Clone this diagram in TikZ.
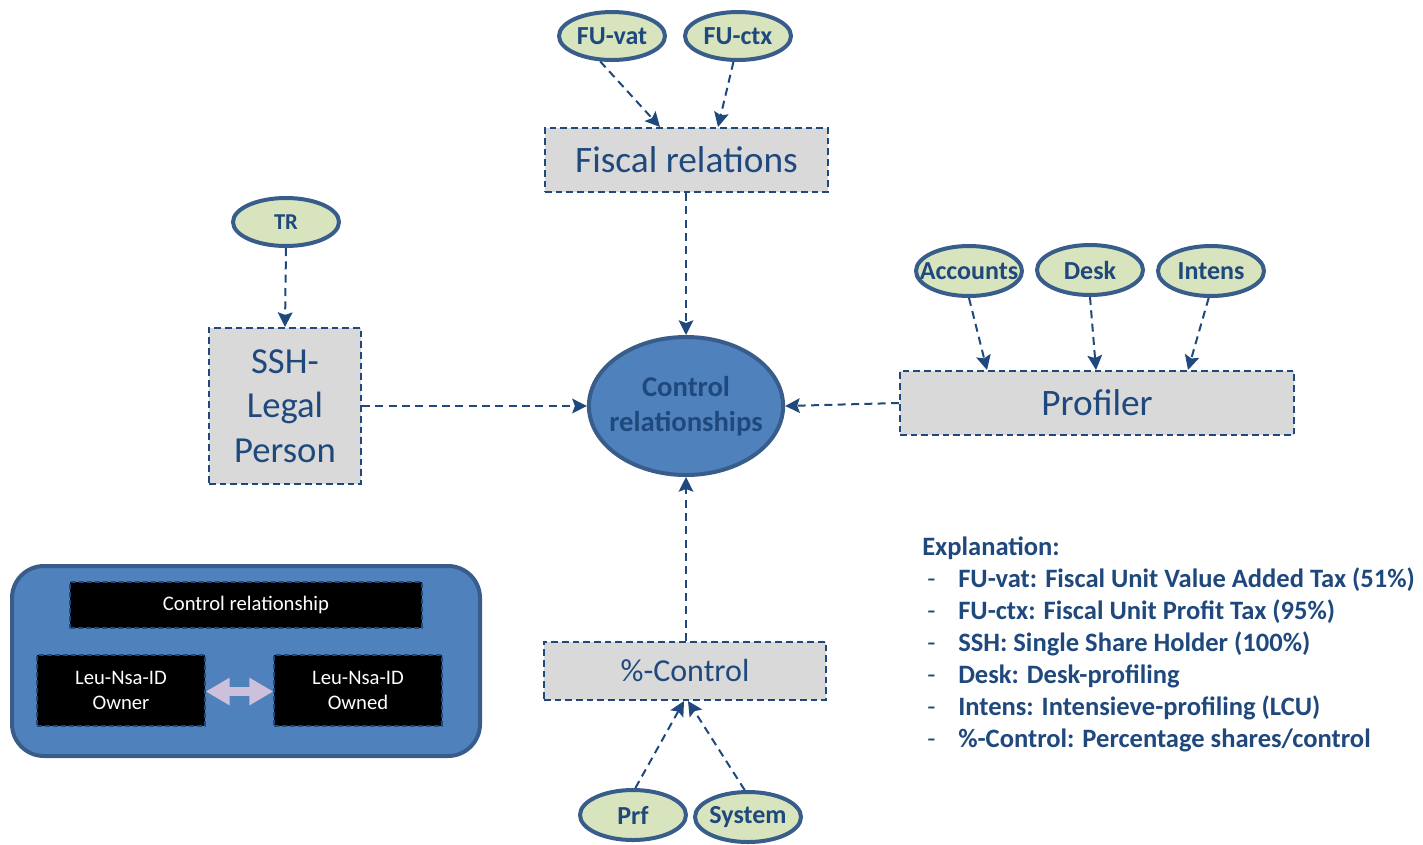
\documentclass[tikz,border=0pt]{standalone}
\usepackage{fontspec}
\setmainfont{Carlito}
\usetikzlibrary{shapes.geometric,arrows.meta,fit}
\definecolor{navy}{HTML}{1F497D}
\definecolor{rim}{HTML}{385D8A}
\definecolor{leaf}{HTML}{D7E4BD}
\definecolor{greybox}{HTML}{D9D9D9}
\definecolor{midblue}{HTML}{4F81BD}
\definecolor{lav}{HTML}{CCC0DA}
\tikzset{
  oval/.style={ellipse, draw=rim, line width=3pt, fill=leaf, inner sep=0pt,
    minimum width=79.5pt, minimum height=36pt, text=navy,
    font=\bfseries\fontsize{19.5}{22}\selectfont},
  dbox/.style={draw=navy, fill=greybox, line width=1.5pt, dash pattern=on 5pt off 3pt,
    inner sep=0pt, text=navy, font=\fontsize{27}{33}\selectfont, align=center},
  blk/.style={draw=navy, fill=black, line width=1pt, dash pattern=on 4pt off 2pt,
    inner sep=0pt, text=white, font=\fontsize{15.5}{19}\selectfont, align=center},
  wlabel/.style={text=white, font=\fontsize{15.5}{19}\selectfont, align=center},
  blabel/.style={text=navy, font=\fontsize{28}{33.5}\selectfont, align=center},
  link/.style={draw=navy, line width=1.5pt, dash pattern=on 6pt off 4pt,
    -{Stealth[length=11pt,width=11pt,inset=2pt]}},
  expl/.style={anchor=base west, text=navy, inner sep=0pt, font=\bfseries\fontsize{19.9}{23}\selectfont},
}
\begin{document}
\begin{tikzpicture}[x=0.75pt,y=-0.75pt]
\useasboundingbox (0,0) rectangle (1423,844);
% ovals
\node[oval] (fuvat) at (612,36) {FU-vat};
\node[oval] (fuctx) at (738,36) {FU-ctx};
\node[oval, font=\bfseries\fontsize{17}{20}\selectfont] (tr) at (286,222) {TR};
\node[oval, inner xsep=-10.4pt, minimum height=37.5pt] (acc) at (969,271) {Accounts};
\node[oval, minimum height=37.5pt] (desk) at (1090,270) {Desk};
\node[oval, minimum height=37.5pt] (intens) at (1211,271) {Intens};
\node[oval, minimum height=37.5pt] (prf) at (633,815) {Prf};
\node[oval, inner xsep=-2pt, minimum height=37.5pt] (sys) at (748,817) {System};
% boxes
\node[dbox, fit={(545,128)(828,192)}] (fiscal) {};
\node[blabel] at (fiscal.center) {Fiscal relations};
\node[dbox, fit={(209,328)(361,484)}] (ssh) {};
\node[blabel, font=\fontsize{27.5}{33.5}\selectfont] at (ssh.center) {SSH-\\Legal\\Person};
\node[dbox, fit={(900,371)(1294,435)}] (prof) {};
\node[blabel] at (prof.center) {Profiler};
\node[dbox, fit={(544,642)(826,700)}] (pct) {};
\node[blabel, font=\fontsize{24}{29}\selectfont] at (pct.center) {\%-Control};
% central
\node[ellipse, draw=rim, line width=3pt, fill=midblue, inner ysep=0pt, inner xsep=-6pt,
  minimum width=145.5pt, minimum height=103.5pt, text=navy, align=center,
  font=\bfseries\fontsize{21.5}{26}\selectfont] (ctrl) at (686,406) {Control\\relationships};
% connectors
\draw[link] (fuvat.-115) -- (fiscal.north -| 660,0);
\draw[link] (fuctx.-100) -- (fiscal.north -| 718,0);
\draw[link] (fiscal.south -| 686,0) -- (ctrl.north);
\draw[link] (tr.south) -- (ssh.north);
\draw[link] (ssh.east) -- (ctrl.west);
\draw[link] (prof.west) -- (ctrl.east);
\draw[link] (acc.south) -- (prof.north -| 987,0);
\draw[link] (desk.south) -- (prof.north -| 1096,0);
\draw[link] (intens.-95) -- (prof.north -| 1188,0);
\draw[link] (pct.north -| 686,0) -- (ctrl.south);
\draw[link] (prf.85) -- (pct.south -| 684,0);
\draw[link] (sys.97) -- (pct.south -| 688,0);
% legend
\draw[draw=rim, fill=midblue, line width=3pt, rounded corners=24pt] (12,566) rectangle (480,756);
\node[blk, fit={(70,582)(422,628)}] (lgctrl) {};
\node[wlabel] at (lgctrl.center) {Control relationship};
\node[blk, fit={(37,655)(205,726)}] (owner) {};
\node[wlabel] at (owner.center) {Leu-Nsa-ID\\Owner};
\node[blk, fit={(274,655)(442,726)}] (owned) {};
\node[wlabel] at (owned.center) {Leu-Nsa-ID\\Owned};
\draw[draw=lav, line width=6.5pt, {Triangle[length=18pt 0,width=19.5pt 0]}-{Triangle[length=18pt 0,width=19.5pt 0]}]
  ([yshift=-0.75pt]owner.east) -- ([yshift=-0.75pt]owned.west);
% explanation
\node[expl] (e0) at (922,555) {Explanation:};
\foreach \t [count=\i] in {FU-vat: Fiscal Unit Value Added Tax (51\%),
  FU-ctx: Fiscal Unit Profit Tax (95\%),
  SSH: Single Share Holder (100\%),
  Desk: Desk-profiling,
  Intens: Intensieve-profiling (LCU),
  \%-Control: Percentage shares/control} {
  \node[expl, font=\fontsize{19.9}{23}\selectfont] (d\i) at (927,555+32*\i) {-};
  \node[expl] (t\i) at (958,555+32*\i) {\t};
}
\end{tikzpicture}
\end{document}
